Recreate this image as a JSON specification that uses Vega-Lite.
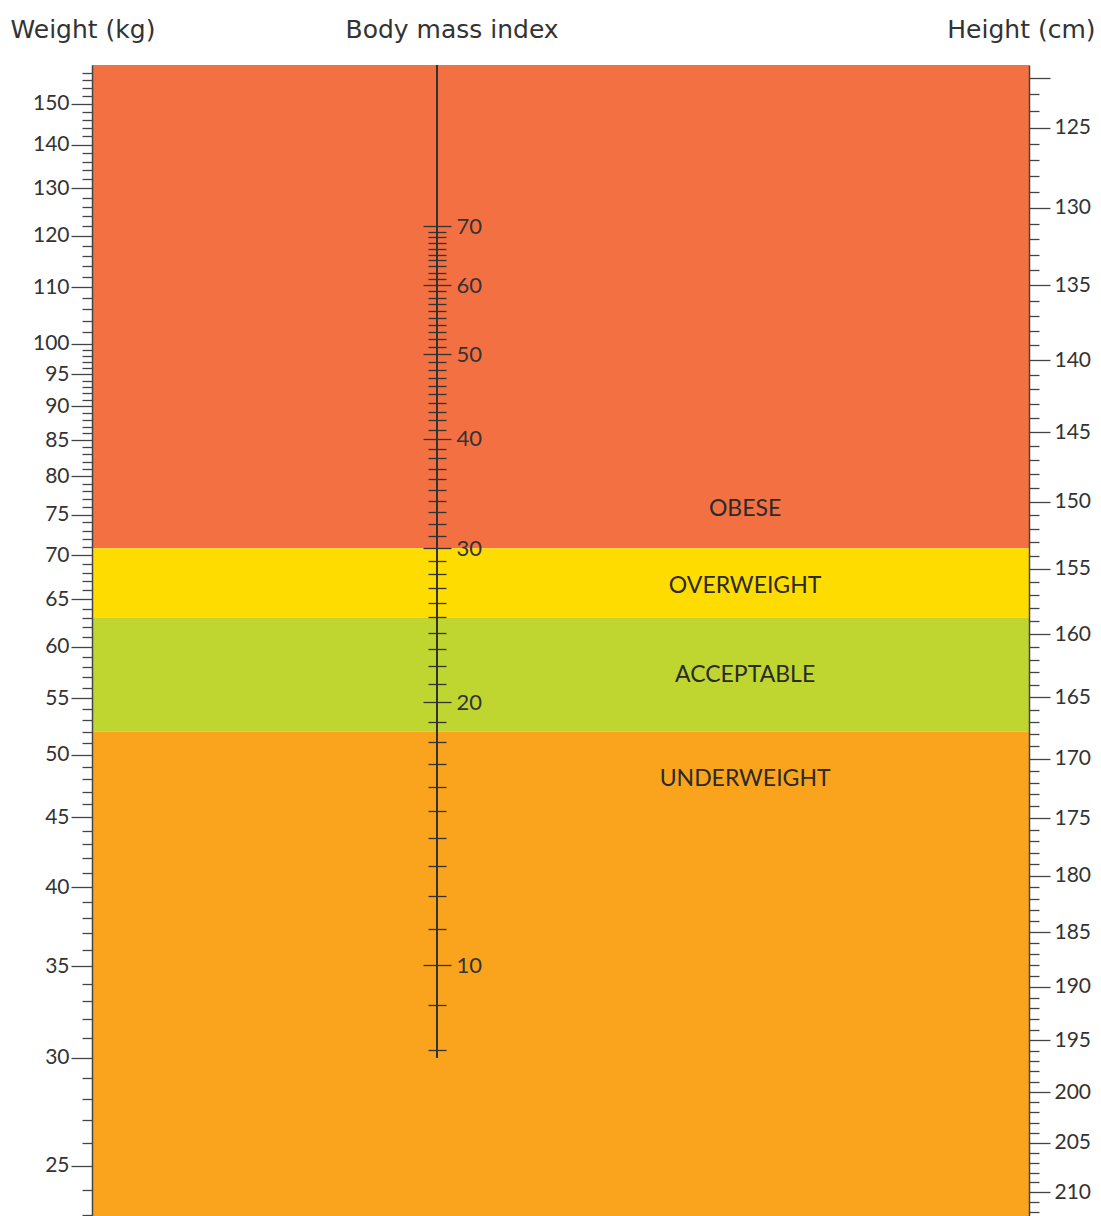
{
  "$schema": "https://vega.github.io/schema/vega-lite/v6.json",
  "width": 937,
  "height": 1151,
  "autosize": {"type": "none"},
  "padding": {"left": 92, "top": 65, "right": 72, "bottom": 0},
  "background": "white",
  "data": {
    "values": [
      {"category": "OBESE", "lo": 30, "hi": 110, "label_at": 33.27},
      {"category": "OVERWEIGHT", "lo": 25, "hi": 30, "label_at": 27.17},
      {"category": "ACCEPTABLE", "lo": 18.5, "hi": 25, "label_at": 21.49},
      {"category": "UNDERWEIGHT", "lo": 5, "hi": 18.5, "label_at": 16.34}
    ]
  },
  "layer": [
    {
      "mark": {"type": "rect", "clip": true},
      "encoding": {
        "x": {"datum": 0, "type": "quantitative", "scale": {"domain": [0, 1], "nice": false, "zero": false}, "axis": null},
        "x2": {"datum": 1},
        "y": {"field": "lo", "type": "quantitative", "scale": {"type": "log", "domain": [5.17, 107.09], "nice": false}, "axis": null},
        "y2": {"field": "hi"},
        "color": {"field": "category", "type": "nominal", "scale": {"domain": ["OBESE", "OVERWEIGHT", "ACCEPTABLE", "UNDERWEIGHT"], "range": ["#F37043", "#FFDC00", "#C0D630", "#FAA41E"]}, "legend": null}
      }
    },
    {
      "mark": {"type": "rule", "color": "#333333", "strokeWidth": 1.5},
      "encoding": {
        "x": {"datum": 0.3682, "type": "quantitative", "scale": {"domain": [0, 1], "nice": false, "zero": false}, "axis": null},
        "y": {"datum": 7.84, "type": "quantitative", "scale": {"type": "log", "domain": [5.17, 107.09], "nice": false}, "axis": null},
        "y2": {"datum": 107.09}
      }
    },
    {
      "mark": {"type": "text", "font": "Lato", "fontSize": 23, "color": "#2a2a2a", "align": "center", "baseline": "middle"},
      "encoding": {
        "x": {"datum": 0.697, "type": "quantitative", "scale": {"domain": [0, 1], "nice": false, "zero": false}, "axis": null},
        "y": {"field": "label_at", "type": "quantitative", "scale": {"type": "log", "domain": [5.17, 107.09], "nice": false}, "axis": null},
        "text": {"field": "category"}
      }
    },
    {
      "mark": {"type": "point", "opacity": 0},
      "encoding": {
        "y": {"datum": 20, "type": "quantitative", "scale": {"type": "log", "domain": [5.17, 107.09], "nice": false},
          "axis": {"orient": "right", "offset": -592, "zindex": 2, "values": [10, 20, 30, 40, 50, 60, 70], "domain": false, "tickSize": 14, "tickWidth": 1.3, "tickColor": "#333333", "labelFontSize": 22, "labelPadding": 5, "labelExpr": "format(datum.value,'d')", "title": "Body mass index", "titleFont": "DejaVu Sans", "titleAngle": 0, "titleAlign": "left", "titleBaseline": "alphabetic", "titleX": -92, "titleY": -28, "titleFontSize": 25}}
      }
    },
    {
      "mark": {"type": "point", "opacity": 0},
      "encoding": {
        "y": {"datum": 20, "type": "quantitative", "scale": {"type": "log", "domain": [5.17, 107.09], "nice": false},
          "axis": {"orient": "left", "offset": -345, "zindex": 2, "values": [10, 20, 30, 40, 50, 60, 70], "domain": false, "tickSize": 14, "tickWidth": 1.3, "tickColor": "#333333", "labels": false, "title": null}}
      }
    },
    {
      "mark": {"type": "point", "opacity": 0},
      "encoding": {
        "y": {"datum": 20, "type": "quantitative", "scale": {"type": "log", "domain": [5.17, 107.09], "nice": false},
          "axis": {"orient": "right", "offset": -592, "zindex": 2, "values": [8, 9, 11, 12, 13, 14, 15, 16, 17, 18, 19, 21, 22, 23, 24, 25, 26, 27, 28, 29, 31, 32, 33, 34, 35, 36, 37, 38, 39, 41, 42, 43, 44, 45, 46, 47, 48, 49, 51, 52, 53, 54, 55, 56, 57, 58, 59, 61, 62, 63, 64, 65, 66, 67, 68, 69], "domain": false, "tickSize": 9, "tickWidth": 1.3, "tickColor": "#333333", "labels": false, "title": null}}
      }
    },
    {
      "mark": {"type": "point", "opacity": 0},
      "encoding": {
        "y": {"datum": 20, "type": "quantitative", "scale": {"type": "log", "domain": [5.17, 107.09], "nice": false},
          "axis": {"orient": "left", "offset": -345, "zindex": 2, "values": [8, 9, 11, 12, 13, 14, 15, 16, 17, 18, 19, 21, 22, 23, 24, 25, 26, 27, 28, 29, 31, 32, 33, 34, 35, 36, 37, 38, 39, 41, 42, 43, 44, 45, 46, 47, 48, 49, 51, 52, 53, 54, 55, 56, 57, 58, 59, 61, 62, 63, 64, 65, 66, 67, 68, 69], "domain": false, "tickSize": 9, "tickWidth": 1.3, "tickColor": "#333333", "labels": false, "title": null}}
      }
    },
    {
      "mark": {"type": "point", "opacity": 0},
      "encoding": {
        "y": {"datum": 60, "type": "quantitative", "scale": {"type": "log", "domain": [22.97, 160.1], "nice": false},
          "axis": {"orient": "left", "offset": 0, "zindex": 2, "values": [25, 30, 35, 40, 45, 50, 55, 60, 65, 70, 75, 80, 85, 90, 95, 100, 110, 120, 130, 140, 150], "domainWidth": 1.5, "tickSize": 21, "tickWidth": 1.3, "labelFontSize": 21, "labelPadding": 2, "labelExpr": "format(datum.value,'d')", "title": "Weight (kg)", "titleFont": "DejaVu Sans", "titleAngle": 0, "titleAlign": "left", "titleBaseline": "alphabetic", "titleX": -82, "titleY": -28, "titleFontSize": 25}}
      }
    },
    {
      "mark": {"type": "point", "opacity": 0},
      "encoding": {
        "y": {"datum": 60, "type": "quantitative", "scale": {"type": "log", "domain": [22.97, 160.1], "nice": false},
          "axis": {"orient": "left", "offset": 0, "zindex": 2, "values": [23, 24, 26, 27, 28, 29, 31, 32, 33, 34, 36, 37, 38, 39, 41, 42, 43, 44, 46, 47, 48, 49, 51, 52, 53, 54, 56, 57, 58, 59, 61, 62, 63, 64, 66, 67, 68, 69, 71, 72, 73, 74, 76, 77, 78, 79, 81, 82, 83, 84, 86, 87, 88, 89, 91, 92, 93, 94, 96, 97, 98, 99, 102, 104, 106, 108, 112, 114, 116, 118, 122, 124, 126, 128, 132, 134, 136, 138, 142, 144, 146, 148, 152, 154, 156, 158], "domain": false, "tickSize": 10, "tickWidth": 1.3, "labels": false, "title": null}}
      }
    },
    {
      "mark": {"type": "point", "opacity": 0},
      "encoding": {
        "y": {"datum": 160, "type": "quantitative", "scale": {"type": "log", "domain": [121.25, 212.45], "nice": false, "reverse": true},
          "axis": {"orient": "right", "offset": 0, "zindex": 2, "values": [122, 125, 130, 135, 140, 145, 150, 155, 160, 165, 170, 175, 180, 185, 190, 195, 200, 205, 210], "domainWidth": 1.5, "tickSize": 21, "tickWidth": 1.3, "labelFontSize": 21, "labelPadding": 4, "labelExpr": "datum.value == 122 ? '' : format(datum.value,'d')", "title": "Height (cm)", "titleFont": "DejaVu Sans", "titleAngle": 0, "titleAlign": "right", "titleBaseline": "alphabetic", "titleX": 66, "titleY": -28, "titleFontSize": 25}}
      }
    },
    {
      "mark": {"type": "point", "opacity": 0},
      "encoding": {
        "y": {"datum": 160, "type": "quantitative", "scale": {"type": "log", "domain": [121.25, 212.45], "nice": false, "reverse": true},
          "axis": {"orient": "right", "offset": 0, "zindex": 2, "values": [123, 124, 126, 127, 128, 129, 131, 132, 133, 134, 136, 137, 138, 139, 141, 142, 143, 144, 146, 147, 148, 149, 151, 152, 153, 154, 156, 157, 158, 159, 161, 162, 163, 164, 166, 167, 168, 169, 171, 172, 173, 174, 176, 177, 178, 179, 181, 182, 183, 184, 186, 187, 188, 189, 191, 192, 193, 194, 196, 197, 198, 199, 201, 202, 203, 204, 206, 207, 208, 209, 211, 212], "domain": false, "tickSize": 10, "tickWidth": 1.3, "labels": false, "title": null}}
      }
    }
  ],
  "resolve": {"scale": {"y": "independent"}, "axis": {"y": "independent"}},
  "config": {
    "view": {"stroke": null},
    "axis": {"grid": false, "domainColor": "#444444", "tickColor": "#444444", "labelColor": "#333333", "titleColor": "#333333", "labelFont": "Lato", "titleFont": "Lato", "titleFontWeight": "normal", "labelOverlap": false}
  }
}
